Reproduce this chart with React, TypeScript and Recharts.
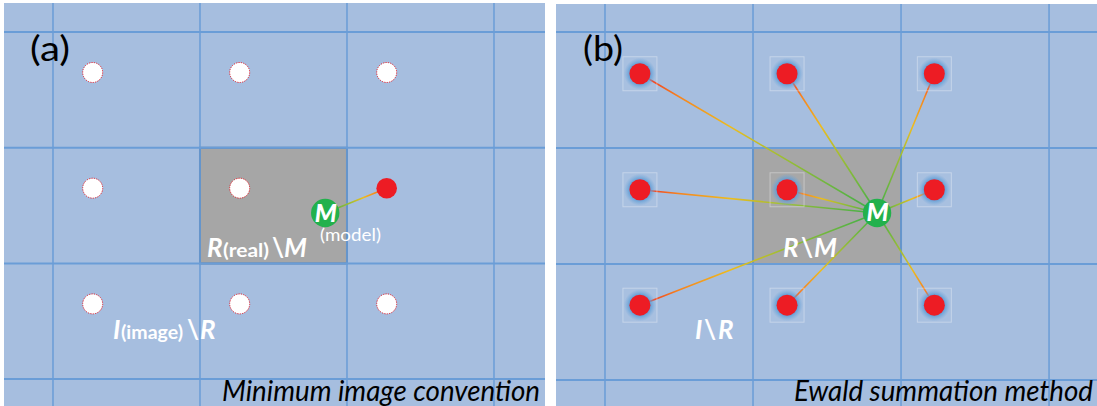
import React from 'react';
import { ScatterChart, Scatter, XAxis, YAxis, ReferenceLine, ReferenceArea } from 'recharts';

// ---------- data (lattice cell units) ----------
const latticeLines = [0, 1, 2, 3];

// Panel (a): minimum image convention
const imageParticlesA = [
  { x: 0.27, y: 0.35 }, { x: 1.27, y: 0.35 }, { x: 2.27, y: 0.35 },
  { x: 0.27, y: 1.35 },
  { x: 0.27, y: 2.35 }, { x: 1.27, y: 2.35 }, { x: 2.27, y: 2.35 },
];
const realParticleA = [{ x: 1.27, y: 1.35 }];
const nearestImageA = [{ x: 2.27, y: 1.35 }];
const modelA = [{ x: 1.852, y: 1.565 }];

// Panel (b): Ewald summation
const particlesB = [
  { x: 0.236, y: 0.36 }, { x: 1.23, y: 0.36 }, { x: 2.225, y: 0.36 },
  { x: 0.236, y: 1.36 }, { x: 1.23, y: 1.36 }, { x: 2.225, y: 1.36 },
  { x: 0.236, y: 2.355 }, { x: 1.23, y: 2.355 }, { x: 2.225, y: 2.355 },
];
const modelB = [{ x: 1.838, y: 1.56 }];

const centralCell = { x1: 1, x2: 2, y1: 1, y2: 2 };

const panelTitles = ['(a)', '(b)'];
const captions = ['Minimum image convention', 'Ewald summation method'];
const modelLetter = 'M';

// ---------- styles ----------
const FONT = "Lato, 'Noto Sans', 'DejaVu Sans', sans-serif";
const BG = '#A6BEDF';
const GRID = '#6A9DD7';
const BOX = '#A6A6A6';
const BOX_EDGE = '#5A7FAA';
const RED = '#ED1C24';
const GREEN = '#22B14C';

const connectorStops = [
  { o: 0, c: '#3DAE4A' },
  { o: 0.4, c: '#9DBE34' },
  { o: 0.62, c: '#EDBC1E' },
  { o: 0.84, c: '#F6821F' },
  { o: 1, c: '#EE2424' },
];

const connector = (id: string) => (props: any) => {
  const pts = props.points || [];
  const segs: any[] = [];
  for (let i = 0; i + 1 < pts.length; i += 2) {
    const a = pts[i];
    const b = pts[i + 1];
    const gid = `${id}-${i}`;
    segs.push(
      <g key={gid}>
        <defs>
          <linearGradient id={gid} gradientUnits="userSpaceOnUse" x1={a.x} y1={a.y} x2={b.x} y2={b.y}>
            {connectorStops.map((s) => (
              <stop key={s.o} offset={s.o} stopColor={s.c} />
            ))}
          </linearGradient>
        </defs>
        <line x1={a.x} y1={a.y} x2={b.x} y2={b.y} stroke={`url(#${gid})`} strokeWidth={1.6} />
      </g>
    );
  }
  return <g>{segs}</g>;
};

const emptyShape = () => <g />;

const whiteDot = (p: any) => (
  <circle cx={p.cx} cy={p.cy} r={10} fill="#FFFFFF" stroke="#E8202A" strokeWidth={1} strokeDasharray="1.2 1.2" />
);
const redDot = (p: any) => <circle cx={p.cx} cy={p.cy} r={10.3} fill={RED} />;
const glowDot = (p: any) => (
  <g>
    <rect x={p.cx - 17} y={p.cy - 17} width={34} height={34} fill="rgba(255,255,255,0.03)" stroke="rgba(255,255,255,0.35)" strokeWidth={1} />
    <circle cx={p.cx} cy={p.cy} r={16} fill="url(#glowB)" />
    <circle cx={p.cx} cy={p.cy} r={10.5} fill={RED} />
  </g>
);
const modelShape = (p: any) => (
  <g>
    <circle cx={p.cx} cy={p.cy} r={14.2} fill={GREEN} />
    <text x={p.cx + 0.5} y={p.cy + 8.5} textAnchor="middle" fill="#FFFFFF" fontFamily={FONT} fontWeight={900} fontStyle="italic" fontSize={25}>
      {modelLetter}
    </text>
  </g>
);

const axes = (xDomain: number[], yDomain: number[]) => [
  <XAxis key="x" type="number" dataKey="x" domain={xDomain} allowDataOverflow hide />,
  <YAxis key="y" type="number" dataKey="y" domain={yDomain} allowDataOverflow reversed hide />,
];

const gridLines = () => [
  ...latticeLines.map((v) => <ReferenceLine key={`v${v}`} x={v} stroke={GRID} strokeWidth={1.5} />),
  ...latticeLines.map((v) => <ReferenceLine key={`h${v}`} y={v} stroke={GRID} strokeWidth={2} />),
];

const margin = { top: 0, right: 0, bottom: 0, left: 0 };

export default function App() {
  return (
    <div style={{ position: 'absolute', left: 0, top: 0, width: 1097, height: 406, background: '#FFFFFF', overflow: 'hidden' }}>
      <div style={{ position: 'absolute', left: 4, top: 3, width: 541, height: 403, background: BG }}>
        <ScatterChart width={541} height={403} margin={margin}>
          {axes([-0.3333, 3.347], [-0.2506, 3.2326])}
          <ReferenceArea x1={centralCell.x1} x2={centralCell.x2} y1={centralCell.y1} y2={centralCell.y2} fill={BOX} fillOpacity={1} stroke={BOX_EDGE} strokeWidth={2} />
          {gridLines()}
          <Scatter data={nearestImageA.flatMap((d) => [modelA[0], d])} shape={emptyShape} line={connector('ga')} isAnimationActive={false} />
          <Scatter data={imageParticlesA} shape={whiteDot} isAnimationActive={false} />
          <Scatter data={realParticleA} shape={whiteDot} isAnimationActive={false} />
          <Scatter data={nearestImageA} shape={redDot} isAnimationActive={false} />
          <Scatter data={modelA} shape={modelShape} isAnimationActive={false} />
        </ScatterChart>
      </div>
      <div style={{ position: 'absolute', left: 556, top: 4, width: 541, height: 402, background: BG }}>
        <ScatterChart width={541} height={402} margin={margin}>
          <defs>
            <radialGradient id="glowB" cx="50%" cy="50%" r="50%">
              <stop offset="0%" stopColor="#5B9BD5" stopOpacity={1} />
              <stop offset="62%" stopColor="#5B9BD5" stopOpacity={0.95} />
              <stop offset="100%" stopColor="#6FA6DA" stopOpacity={0} />
            </radialGradient>
          </defs>
          {axes([-0.331, 3.324], [-0.2414, 3.224])}
          <ReferenceArea x1={centralCell.x1} x2={centralCell.x2} y1={centralCell.y1} y2={centralCell.y2} fill={BOX} fillOpacity={1} stroke={BOX_EDGE} strokeWidth={2} />
          {gridLines()}
          <Scatter data={particlesB.flatMap((d) => [modelB[0], d])} shape={emptyShape} line={connector('gb')} isAnimationActive={false} />
          <Scatter data={particlesB} shape={glowDot} isAnimationActive={false} />
          <Scatter data={modelB} shape={modelShape} isAnimationActive={false} />
        </ScatterChart>
      </div>
      <svg width={1097} height={406} style={{ position: 'absolute', left: 0, top: 0, pointerEvents: 'none' }} fontFamily={FONT}>
        <text x={30} y={61} fontSize={34} fill="#000" textLength={40} lengthAdjust="spacingAndGlyphs">{panelTitles[0]}</text>
        <text x={583} y={61} fontSize={34} fill="#000" textLength={40} lengthAdjust="spacingAndGlyphs">{panelTitles[1]}</text>

        <text y={257} fill="#FFFFFF" fontWeight={700}>
          <tspan x={207} fontSize={26} fontStyle="italic">R</tspan>
          <tspan x={223} fontSize={19} textLength={46} lengthAdjust="spacingAndGlyphs">(real)</tspan>
          <tspan x={272} fontSize={26}>\</tspan>
          <tspan x={284} fontSize={26} fontStyle="italic">M</tspan>
        </text>
        <text x={320} y={241} fontSize={18} fill="#FFFFFF" textLength={61} lengthAdjust="spacingAndGlyphs">(model)</text>

        <text y={339} fill="#FFFFFF" fontWeight={700}>
          <tspan x={113} fontSize={26} fontStyle="italic">I</tspan>
          <tspan x={121} fontSize={19} textLength={62} lengthAdjust="spacingAndGlyphs">(image)</tspan>
          <tspan x={187} fontSize={26}>\</tspan>
          <tspan x={200} fontSize={26} fontStyle="italic">R</tspan>
        </text>

        <text y={257} fill="#FFFFFF" fontWeight={700} fontSize={26}>
          <tspan x={783} fontStyle="italic">R</tspan>
          <tspan x={801}>\</tspan>
          <tspan x={814} fontStyle="italic">M</tspan>
        </text>
        <text y={339} fill="#FFFFFF" fontWeight={700} fontSize={26}>
          <tspan x={695} fontStyle="italic">I</tspan>
          <tspan x={704}>\</tspan>
          <tspan x={718} fontStyle="italic">R</tspan>
        </text>

        <text x={540} y={401} textAnchor="end" fontSize={28} fontStyle="italic" fill="#000" textLength={318} lengthAdjust="spacingAndGlyphs">{captions[0]}</text>
        <text x={1093} y={401} textAnchor="end" fontSize={28} fontStyle="italic" fill="#000" textLength={299} lengthAdjust="spacingAndGlyphs">{captions[1]}</text>
      </svg>
    </div>
  );
}
